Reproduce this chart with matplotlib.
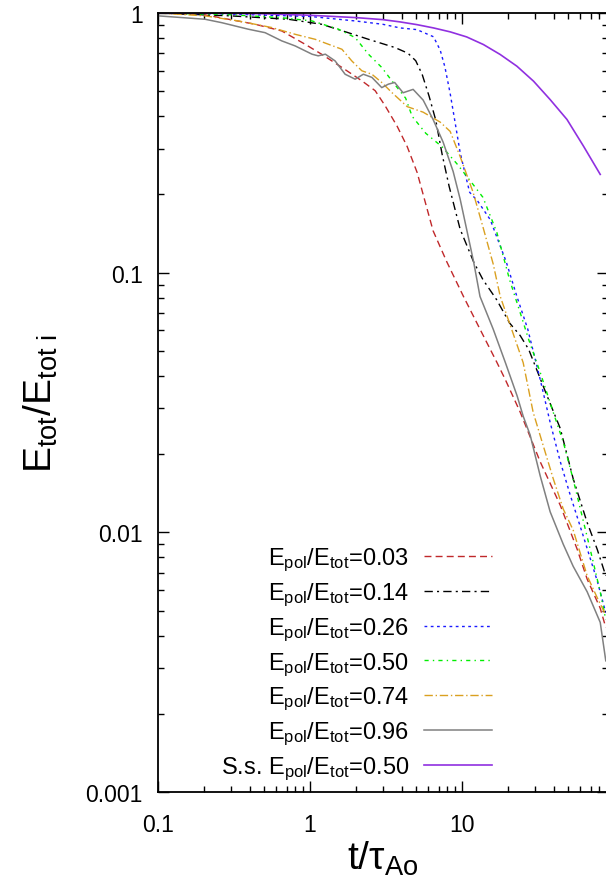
import matplotlib
matplotlib.use('Agg')
import matplotlib.pyplot as plt

plt.rcParams['font.family'] = ['Liberation Sans', 'DejaVu Sans']
plt.rcParams['mathtext.fontset'] = 'custom'
plt.rcParams['mathtext.rm'] = 'Liberation Sans'
plt.rcParams['mathtext.it'] = 'Liberation Sans:italic'
plt.rcParams['mathtext.default'] = 'regular'

# данные
t_red = [0.1, 0.2, 0.435, 0.651, 0.927, 1.19, 1.62, 2.19, 2.68, 3.11, 3.74, 4.35, 5.06, 5.54, 6.44,
         7.93, 10.2, 13.1, 16.9, 19.2, 24.1, 32.6, 44.2, 57.1, 66.4, 80.9, 88]
e_red = [1.0, 0.986, 0.905, 0.853, 0.758, 0.694, 0.617, 0.548, 0.502, 0.44, 0.366, 0.306, 0.243, 0.2, 0.145,
         0.11, 0.081, 0.0606, 0.0452, 0.0388, 0.029, 0.0187, 0.0127, 0.0086, 0.0066, 0.0051, 0.0043]

t_black = [0.1, 0.3, 0.72, 1.19, 1.78, 2.42, 3.62, 4.4, 4.95, 5.46, 6.07, 6.71, 7.39, 8.21, 9.7,
           11.9, 13.7, 16.9, 20.5, 24.1, 27.4, 36.2, 44.2, 53.7, 66.4, 77.3, 88]
e_black = [1.0, 0.975, 0.946, 0.905, 0.84, 0.792, 0.736, 0.70, 0.655, 0.58, 0.477, 0.386, 0.285, 0.215, 0.147,
           0.11, 0.094, 0.0785, 0.064, 0.0572, 0.0506, 0.0335, 0.0251, 0.0161, 0.0109, 0.0086, 0.0068]

t_blue = [0.1, 0.3, 1.0, 1.98, 3.0, 3.91, 5.04, 6.48, 7.17, 7.7, 8.34, 8.98, 9.7, 10.7, 11.2,
          12.7, 15.3, 19.5, 22.9, 27.0, 32.6, 37.9, 44.2, 51.4, 62.5, 77.3, 88]
e_blue = [1.0, 0.99, 0.97, 0.932, 0.905, 0.876, 0.863, 0.81, 0.72, 0.62, 0.49, 0.38, 0.29, 0.228, 0.204,
          0.188, 0.16, 0.11, 0.081, 0.0606, 0.0388, 0.0265, 0.0187, 0.0139, 0.0097, 0.0065, 0.0049]

t_green = [0.1, 0.3, 0.64, 1.03, 1.54, 1.98, 2.42, 2.96, 3.45, 4.25, 4.69, 5.77, 7.39, 9.27, 11.7,
           13.7, 16.9, 20.5, 24.1, 27.4, 32.6, 39.7, 46.2, 53.7, 69.5, 80.9, 88]
e_green = [1.0, 0.985, 0.96, 0.932, 0.866, 0.804, 0.694, 0.617, 0.548, 0.47, 0.40, 0.344, 0.305, 0.262, 0.22,
           0.195, 0.143, 0.094, 0.07, 0.0552, 0.0413, 0.029, 0.0223, 0.016, 0.0086, 0.0059, 0.0046]

t_orange = [0.1, 0.204, 0.337, 0.56, 0.797, 1.08, 1.32, 1.62, 1.88, 2.19, 2.55, 2.96, 3.45, 4.35, 5.54,
            7.17, 8.34, 9.7, 11.8, 13.7, 16.0, 17.8, 21.7, 25.2, 29.3, 34.1, 39.7, 46.2, 53.7, 66.4, 77.3, 88]
e_orange = [1.0, 0.975, 0.932, 0.879, 0.828, 0.792, 0.758, 0.725, 0.654, 0.599, 0.581, 0.54, 0.494, 0.436, 0.415,
            0.38, 0.35, 0.28, 0.204, 0.15, 0.108, 0.081, 0.058, 0.045, 0.029, 0.0216, 0.0161, 0.0123, 0.0102,
            0.0068, 0.0056, 0.0048]

t_gray = [0.1, 0.204, 0.262, 0.393, 0.506, 0.651, 0.797, 1.03, 1.13, 1.26, 1.46, 1.70, 1.98, 2.24, 2.55,
          2.96, 3.27, 3.6, 4.09, 4.76, 5.54, 6.44, 7.5, 8.73, 9.7, 10.7, 11.9, 13.1, 16.0, 19.2,
          23.0, 25.2, 28.0, 32.6, 37.9, 46.2, 53.7, 66.4, 80.9, 88]
e_gray = [0.975, 0.946, 0.918, 0.866, 0.84, 0.781, 0.747, 0.694, 0.684, 0.694, 0.654, 0.581, 0.556, 0.581, 0.565,
          0.516, 0.532, 0.54, 0.493, 0.508, 0.462, 0.389, 0.318, 0.245, 0.192, 0.147, 0.11, 0.081, 0.0606, 0.0452,
          0.0335, 0.028, 0.0237, 0.0165, 0.012, 0.009, 0.0074, 0.0059, 0.0045, 0.0032]

t_ss = [0.1, 0.3, 0.5, 1.0, 2.0, 3.0, 3.91, 5.04, 6.48, 8.34, 10.7, 13.8, 17.8, 22.9, 29.5, 37.9, 48.9, 62.8, 80.9]
e_ss = [1.0, 0.997, 0.993, 0.98, 0.96, 0.943, 0.924, 0.902, 0.876, 0.846, 0.809, 0.756, 0.692, 0.624, 0.546,
        0.464, 0.389, 0.307, 0.239]

labels = ['0.03', '0.14', '0.26', '0.50', '0.74', '0.96']

fig = plt.figure(figsize=(6.06, 8.78), dpi=100)
ax = fig.add_axes([158/606, 85/878, 450/606, 779/878])

lab = lambda v: r'E$_{pol}$/E$_{tot}$=' + v
ax.plot(t_red, e_red, color='#c0282a', lw=1.0, ls=(0, (5, 3)), label=lab(labels[0]))
ax.plot(t_black, e_black, color='black', lw=1.0, ls=(0, (6, 3, 1.5, 3)), label=lab(labels[1]))
ax.plot(t_blue, e_blue, color='#1a1aff', lw=1.0, ls=(0, (2, 2.5)), label=lab(labels[2]))
ax.plot(t_green, e_green, color='#00ee00', lw=1.0, ls=(0, (3, 3, 1, 3)), label=lab(labels[3]))
ax.plot(t_orange, e_orange, color='#daa020', lw=1.0, ls=(0, (6, 2, 1, 2)), label=lab(labels[4]))
ax.plot(t_gray, e_gray, color='#808080', lw=1.1, label=lab(labels[5]))
ax.plot(t_ss, e_ss, color='#9030e0', lw=1.2, label='S.s. ' + lab('0.50'))

ax.set_xscale('log')
ax.set_yscale('log')
ax.set_xlim(0.1, 91)
ax.set_ylim(0.001, 1)
ax.set_xticks([0.1, 1, 10])
ax.set_xticklabels(['0.1', '1', '10'])
ax.set_yticks([0.001, 0.01, 0.1, 1])
ax.set_yticklabels(['0.001', '0.01', '0.1', '1'])

ax.tick_params(which='both', direction='in', top=True, right=True, width=1)
ax.tick_params(which='major', length=8)
ax.tick_params(which='minor', length=4)
ax.tick_params(axis='x', which='major', pad=15, labelsize=16.5)
ax.tick_params(axis='y', which='major', pad=11, labelsize=16.5)
for s in ax.spines.values():
    s.set_linewidth(1.3)

ax.set_xlabel(r'$t/\tau_{Ao}$', fontsize=28, labelpad=2)
ax.set_ylabel(r'E$_{tot}$/E$_{tot\ i}$', fontsize=28, labelpad=18)

ax.legend(loc='lower right', bbox_to_anchor=(0.779, -0.008), frameon=False, markerfirst=False,
          fontsize=17, handlelength=2.9, handletextpad=0.6, labelspacing=0.31, borderpad=0.2)

fig.savefig('out.png', dpi=100)
